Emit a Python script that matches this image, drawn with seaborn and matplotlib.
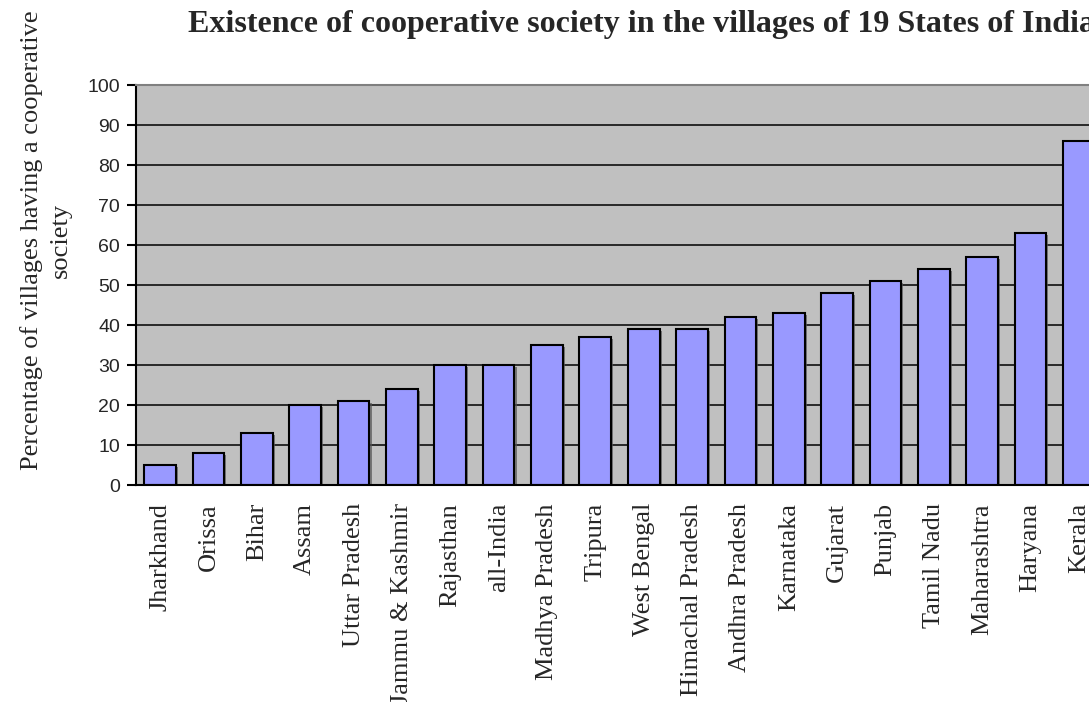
import matplotlib
matplotlib.use("Agg")
import matplotlib.pyplot as plt
import matplotlib.patheffects as pe
import seaborn as sns
import pandas as pd

# Share of villages with a cooperative society, by state (percent)
states = [
    "Jharkhand", "Orissa", "Bihar", "Assam", "Uttar Pradesh", "Jammu & Kashmir",
    "Rajasthan", "all-India", "Madhya Pradesh", "Tripura", "West Bengal",
    "Himachal Pradesh", "Andhra Pradesh", "Karnataka", "Gujarat", "Punjab",
    "Tamil Nadu", "Maharashtra", "Haryana", "Kerala",
]
percent = [5, 8, 13, 20, 21, 24, 30, 30, 35, 37, 39, 39, 42, 43, 48, 51, 54, 57, 63, 86]
y_ticks = [0, 10, 20, 30, 40, 50, 60, 70, 80, 90, 100]

title = "Existence of cooperative society in the villages of 19 States of India"
y_label = "Percentage of villages having a cooperative\nsociety"

df = pd.DataFrame({"state": states, "percent": percent})

sns.set_style("white")
serif = ["Liberation Serif", "DejaVu Serif"]
sans = ["Liberation Sans", "DejaVu Sans"]

W, H = 1089, 702
fig = plt.figure(figsize=(W / 100, H / 100), dpi=100)
fig.patch.set_facecolor("white")

# plot area runs past the right edge of the canvas
ax = fig.add_axes([136 / W, (H - 485) / H, 967 / W, 400 / H])
ax.set_facecolor("#C0C0C0")

sns.barplot(
    data=df, x="state", y="percent", ax=ax, color="#9999FF", saturation=1,
    width=0.656, edgecolor="black", linewidth=1.5, zorder=3,
)
for bar in ax.patches:
    bar.set_path_effects([
        pe.SimplePatchShadow(offset=(1.5, -1.5), shadow_rgbFace="#555555", alpha=0.7),
        pe.Normal(),
    ])

ax.set_ylim(0, 100)
ax.set_yticks(y_ticks)
ax.set_yticklabels([str(t) for t in y_ticks], family=sans, fontsize=14)
ax.set_xticks(range(len(states)))
ax.set_xticklabels(states, rotation=90, family=serif, fontsize=19)
ax.tick_params(axis="x", length=0, pad=13)
ax.tick_params(axis="y", length=6.5, width=1.5, color="black", pad=5, left=True)

for t in y_ticks[1:-1]:
    ax.axhline(t, color="black", linewidth=1.1, zorder=1)

ax.set_xlabel("")
ax.set_ylabel("")
for side in ["left", "bottom"]:
    ax.spines[side].set_color("black")
    ax.spines[side].set_linewidth(1.5)
ax.spines["top"].set_color("#808080")
ax.spines["top"].set_linewidth(1.5)
ax.spines["right"].set_visible(False)
for s in ax.spines.values():
    s.set_zorder(4)

fig.text(188 / W, (H - 32) / H, title, family=serif, fontsize=23,
         fontweight="bold", ha="left", va="baseline")

fig.text(46 / W, (H - 240) / H, y_label, family=serif, fontsize=19,
         rotation=90, ha="center", va="center", multialignment="center",
         linespacing=1.45)

fig.savefig("out.png", dpi=100)
